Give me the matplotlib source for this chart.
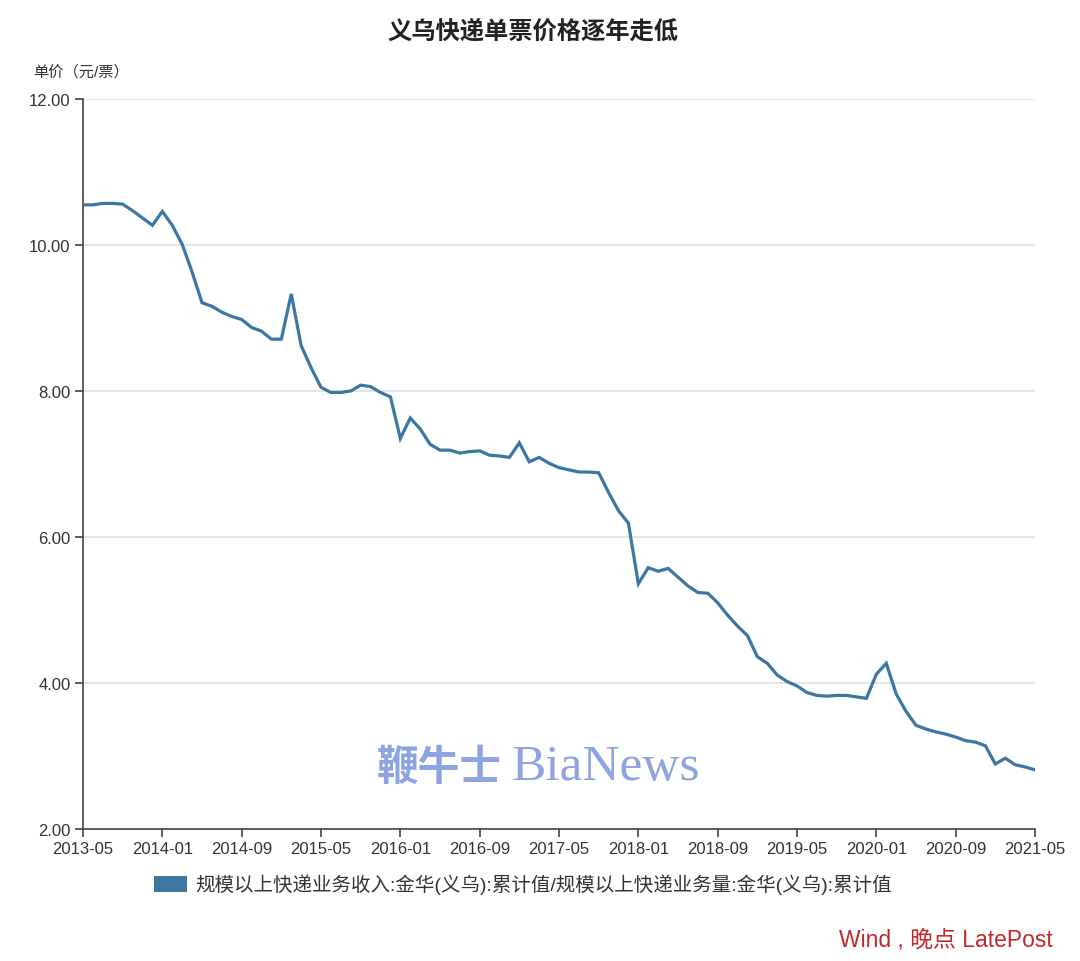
import numpy as np
import matplotlib
matplotlib.use("Agg")
import matplotlib.pyplot as plt
from matplotlib.patches import Patch

plt.rcParams['font.family'] = ['Liberation Sans', 'Noto Sans CJK SC', 'DejaVu Sans']

# monthly unit price (yuan per parcel), 2013-05 .. 2021-05
months = [f"{2013 + (4 + i) // 12}-{(4 + i) % 12 + 1:02d}" for i in range(97)]
price = [
    10.55, 10.55, 10.57, 10.57, 10.56, 10.47, 10.37, 10.27, 10.46, 10.27,
    10.01, 9.63, 9.21, 9.16, 9.08, 9.02, 8.98, 8.87, 8.82, 8.71,
    8.71, 9.33, 8.62, 8.32, 8.05, 7.98, 7.98, 8.00, 8.08, 8.06,
    7.98, 7.92, 7.35, 7.63, 7.48, 7.27, 7.19, 7.19, 7.15, 7.17,
    7.18, 7.12, 7.11, 7.09, 7.29, 7.03, 7.09, 7.01, 6.95, 6.92,
    6.89, 6.89, 6.88, 6.61, 6.36, 6.19, 5.36, 5.58, 5.53, 5.57,
    5.45, 5.33, 5.24, 5.23, 5.10, 4.93, 4.78, 4.65, 4.36, 4.27,
    4.11, 4.02, 3.96, 3.87, 3.83, 3.82, 3.83, 3.83, 3.81, 3.79,
    4.12, 4.27, 3.85, 3.61, 3.42, 3.37, 3.33, 3.30, 3.26, 3.21,
    3.19, 3.14, 2.89, 2.97, 2.88, 2.85, 2.81,
]
y_ticks = [2, 4, 6, 8, 10, 12]
series_name = "规模以上快递业务收入:金华(义乌):累计值/规模以上快递业务量:金华(义乌):累计值"

line_color = "#3b77a2"
text_color = "#333333"

fig = plt.figure(figsize=(10.8, 9.62), dpi=100)
ax = fig.add_axes([83 / 1080, 1 - 830 / 962, (1035 - 83) / 1080, 730 / 962])

x = np.arange(len(months))
ax.plot(x, price, color=line_color, lw=2.3, solid_joinstyle="miter", zorder=3)

ax.set_xlim(0, len(months) - 1)
ax.set_ylim(2, 12)
ax.set_yticks(y_ticks)
ax.set_yticklabels([f"{v:.2f}" for v in y_ticks])
ax.set_xticks(x[::8])
ax.set_xticklabels(months[::8])

ax.grid(axis="y", color="#e0e0e0", lw=1.2)
ax.set_axisbelow(True)
for s in ["top", "right"]:
    ax.spines[s].set_visible(False)
for s in ["left", "bottom"]:
    ax.spines[s].set_color("#444444")
    ax.spines[s].set_linewidth(1.2)
ax.tick_params(axis="both", colors="#444444", labelcolor=text_color,
               labelsize=12, length=6, width=1.2, pad=3)

fig.text(533 / 1080, 1 - 32 / 962, "义乌快递单票价格逐年走低", ha="center", va="center",
         fontsize=17.5, fontweight="bold", color="#222222")
fig.text(33 / 1080, 1 - 72 / 962, "单价（元/票）", ha="left", va="center",
         fontsize=11, color=text_color)

fig.legend(handles=[Patch(facecolor=line_color, edgecolor="none", label=series_name)],
           loc="center left", bbox_to_anchor=(136 / 1080, 1 - 885 / 962),
           frameon=False, fontsize=14, handlelength=1.7, handleheight=0.9,
           handletextpad=0.45, labelcolor=text_color)

# watermark
fig.text(502 / 1080, 1 - 768 / 962, "鞭牛士", ha="right", va="center",
         fontsize=30, color="#8ea4e2", family=["Noto Sans CJK SC"],
         fontweight="bold", zorder=5)
fig.text(512 / 1080, 1 - 768 / 962, "BiaNews", ha="left", va="center",
         fontsize=37, color="#8ea4e2", family=["Liberation Serif"], zorder=5)

fig.text(1053 / 1080, 1 - 941 / 962, "Wind , 晚点 LatePost", ha="right", va="center",
         fontsize=16.5, color="#c0282a")

fig.savefig("out.png", dpi=100, facecolor="white")
